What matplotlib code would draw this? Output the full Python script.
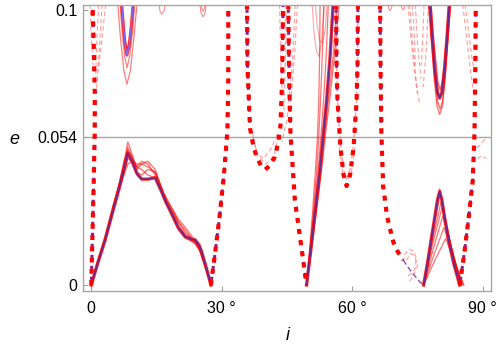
import matplotlib.pyplot as plt

plt.rcParams['font.family'] = ['Liberation Sans', 'DejaVu Sans']

RED = '#ff0000'
PURPLE = '#6a2890'
DPURPLE = '#8a1f86'
LIGHT = '#ff5a5a'

# ---- solid arch, 0 .. 27.5 deg
arch_i = [0, 1.5, 3.2, 5, 6.3, 7.5, 8.4, 9.5, 10.5, 11.6, 13, 14.7, 16, 17.2, 18.5, 20, 21.6, 23, 23.9, 24.8, 25.4, 26.5, 27.5]
arch_e = [0, .008, .0164, .027, .0345, .042, .048, .0445, .0405, .0385, .0385, .039, .0345, .030, .026, .021, .0176, .0167, .0164, .0145, .012, .006, 0]
arch_var = [
    [0, .008, .0165, .027, .035, .044, .052, .047, .042, .044, .045, .042, .036, .031, .026, .021, .018, .016, .015, .013, .011, .0055, 0],
    [0, .0085, .017, .028, .036, .043, .050, .046, .043, .045, .044, .040, .035, .030, .027, .023, .020, .017, .016, .014, .012, .006, 0],
    [0, .009, .018, .029, .036, .041, .046, .045, .044, .044, .043, .041, .036, .031, .028, .023, .019, .017, .015, .013, .010, .005, 0],
    [0, .0075, .016, .027, .034, .040, .044, .045, .043, .042, .040, .039, .035, .032, .028, .024, .021, .018, .016, .013, .011, .005, 0],
    [0, .008, .0170, .028, .036, .045, .049, .046, .041, .040, .042, .041, .036, .030, .025, .020, .017, .016, .0155, .014, .0115, .006, 0],
]

# ---- thick dashed branches
dash_a_i = [0, 0.3, 0.6, 0.8, 0.8, 0.6, 0.3]
dash_a_e = [0, .02, .04, .056, .07, .085, .102]
dash_b_i = [27.5, 28.5, 29.5, 30.5, 31.3, 31.5, 31.5]
dash_b_e = [0, .012, .025, .04, .056, .075, .102]
u1_i = [35.8, 35.9, 36.5, 37.2, 38, 39, 40, 41.1, 42.2, 43.0, 43.5, 43.9, 44.1]
u1_e = [.102, .08, .057, .051, .0466, .0435, .042, .0435, .0466, .052, .058, .075, .102]
vleft_i = [45.3, 45.5, 45.8, 46.8, 48.2, 49.5]
vleft_e = [.102, .075, .055, .031, .015, 0]
u2_i = [56.3, 56.4, 56.6, 57.3, 58, 58.7, 59.5, 60.3, 61, 61.2, 61.3]
u2_e = [.102, .08, .067, .05, .04, .036, .04, .05, .067, .08, .102]
u2_var_e = [.102, .08, .067, .051, .042, .039, .042, .051, .067, .08, .102]
drop_i = [66.4, 66.5, 66.7, 67.1, 68, 69.4, 70.5, 71.7]
drop_e = [.102, .08, .055, .036, .025, .0158, .012, .0091]
tail_i = [71.7, 73.5, 75.5, 76.4]
tail_e = [.0091, .005, .0012, 0]
dash_r_i = [84.7, 85.8, 86.8, 87.7, 88.1, 88.3, 88.4]
dash_r_e = [0, .012, .025, .038, .055, .08, .102]

# ---- solid V on the right of 49.5 deg, with its fan
vright_i = [49.5, 50.5, 51.5, 52.5, 53.3, 54.1, 54.9, 55.6]
vright_e = [0, .013, .027, .041, .054, .067, .083, .102]
fan_i = [
    [49.5, 50.3, 51.1, 51.8, 52.3, 52.7, 53.1, 53.5],
    [49.5, 50.4, 51.3, 52.1, 52.8, 53.4, 54.0, 54.5],
    [49.5, 50.6, 51.7, 52.8, 53.6, 54.5, 55.6, 56.5],
    [49.5, 50.6, 51.8, 52.9, 53.8, 54.8, 55.9, 57.0],
    [49.5, 50.2, 50.9, 51.5, 52.0, 52.3, 52.5, 52.6],
]
fan_loop_i = [[50.8, 51.2, 51.8, 52.4, 53.0, 53.5], [51.5, 51.9, 52.5, 53.2, 53.8, 54.2]]
fan_loop_e = [[.102, .092, .085, .083, .09, .102], [.102, .095, .089, .088, .093, .102]]

# ---- solid W between 76.4 and 85 deg
w_i = [76.4, 77.3, 78.2, 79.0, 79.6, 80.1, 80.6, 81.3, 82.2, 83.3, 84.7]
w_e = [0, .008, .017, .025, .031, .034, .031, .024, .016, .008, 0]
w_var_i = [
    [76.4, 78.2, 80.1, 82.3, 84.8],
    [76.4, 78.3, 80.2, 82.4, 84.9],
    [76.4, 78.4, 80.4, 82.6, 85.0],
    [76.4, 78.5, 80.6, 82.8, 85.1],
    [76.4, 78.6, 80.8, 83.0, 85.3],
    [76.4, 78.8, 81.1, 83.2, 85.5],
    [76.4, 79.0, 81.5, 83.5, 85.7],
]
w_var_e = [
    [0, .018, .035, .017, 0],
    [0, .017, .033, .016, 0],
    [0, .016, .030, .015, 0],
    [0, .015, .028, .014, 0],
    [0, .013, .025, .012, 0],
    [0, .011, .021, .010, 0],
    [0, .009, .017, .008, 0],
]

# ---- U shapes hanging from the top
u80_i = [77.9, 78.4, 79.0, 79.6, 80.1, 80.6, 81.2, 81.8, 82.3]
u80_e = [.102, .09, .078, .07, .068, .07, .078, .09, .102]
u80_var_i = [
    [77.5, 78.2, 78.9, 79.5, 80.1, 80.7, 81.3, 81.9, 82.6],
    [77.7, 78.3, 79.0, 79.6, 80.2, 80.8, 81.4, 82.0, 82.6],
    [78.1, 78.6, 79.2, 79.7, 80.2, 80.7, 81.2, 81.7, 82.2],
]
u80_var_e = [
    [.102, .088, .074, .065, .062, .065, .074, .088, .102],
    [.102, .089, .076, .067, .064, .067, .076, .089, .102],
    [.102, .092, .082, .074, .071, .074, .082, .092, .102],
]
u8_i = [7.0, 7.4, 7.8, 8.2, 8.7, 9.2, 9.6]
u8_e = [.102, .094, .087, .0836, .087, .094, .102]
u8_var_i = [
    [6.1, 6.7, 7.5, 8.2, 9.0, 9.8, 10.5],
    [6.6, 7.1, 7.7, 8.2, 8.8, 9.5, 10.0],
    [6.9, 7.3, 7.8, 8.3, 8.8, 9.3, 9.8],
]
u8_var_e = [
    [.102, .09, .078, .073, .078, .09, .102],
    [.102, .092, .083, .079, .083, .092, .102],
    [.102, .095, .089, .086, .089, .095, .102],
]
loops_i = [
    [15.6, 15.8, 16.2, 16.7, 17.0],
    [25.0, 25.2, 25.7, 26.2, 26.4],
    [25.3, 25.4, 25.7, 26.0, 26.1],
    [68.2, 68.4, 68.7, 69.0, 69.2],
    [71.2, 71.4, 71.7, 72.0, 72.2],
]
loops_e = [
    [.102, .0995, .0985, .0995, .102],
    [.102, .099, .0975, .099, .102],
    [.102, .1005, .0995, .1005, .102],
    [.102, .1005, .0998, .1005, .102],
    [.102, .1008, .1, .1008, .102],
]

# ---- thin dashed bundles
thin_i = [
    [2.5, 1.8, 1.2], [3.3, 2.5, 1.6], [-0.3, 0.0, 0.4], [1.7, 1.3, 1.0],
    [46.9, 46.2, 45.0, 43.8], [47.4, 46.8, 45.8], [44.8, 44.6, 44.2], [43.3, 43.5, 43.9],
    [37.0, 38.2, 40.2, 42.0, 43.2], [36.8, 38.0, 39.6, 41.5, 43.0],
    [73.2, 74.0, 75.0, 75.5], [74.5, 75.0, 75.8], [77.5, 77.0, 76.3],
    [76.5, 76.2, 75.9], [73.8, 74.3, 74.5], [72.8, 73.5, 74.3, 74.9],
    [85.4, 86.3, 87.2, 87.7, 88.3], [85.9, 86.7, 87.5, 88.0],
    [72.0, 73.0, 74.0, 74.7, 74.5, 73.5, 72.5],
    [72.5, 73.4, 74.4, 75.0, 74.0, 73.0],
    [57.0, 57.8, 58.8, 59.8, 60.6], [88.6, 89.5, 90.5], [88.8, 89.8, 90.8],
]
thin_e = [
    [.102, .085, .07], [.102, .09, .078], [.102, .09, .08], [.102, .09, .075],
    [.102, .08, .06, .052], [.102, .085, .065], [.102, .08, .06], [.102, .085, .07],
    [.056, .047, .044, .047, .055], [.057, .048, .046, .05, .056],
    [.102, .085, .07, .066], [.102, .088, .075], [.102, .085, .072],
    [.102, .09, .08], [.102, .09, .08], [.102, .09, .078, .07],
    [.102, .09, .078, .072, .068], [.102, .093, .083, .078],
    [.011, .013, .0125, .01, .006, .004, .003],
    [.009, .0115, .0105, .007, .003, .001],
    [.05, .041, .038, .041, .05], [.05, .051, .053], [.046, .047, .046],
]

yticks = [0, 0.054, 0.1]
ytick_labels = ['0', '0.054', '0.1']
xticks = [0, 30, 60, 90]
xtick_labels = ['0', '30 °', '60 °', '90 °']

fig = plt.figure(figsize=(5, 3.49), dpi=100)
ax = fig.add_axes([0.166, 0.166, 0.816, 0.8195])

thick = dict(lw=3.0, linestyle=(0, (1.2, 1.5)), dash_capstyle='butt')
thick_p = dict(lw=2.2, linestyle=(1.9, (1.0, 2.6)), dash_capstyle='butt')

# thin light dashed
for xs, ys in zip(thin_i, thin_e):
    ax.plot(xs, ys, color=LIGHT, lw=0.8, alpha=0.6, linestyle=(0, (4, 2.5)))
ax.plot(tail_i, tail_e, color=PURPLE, lw=1.0, alpha=0.8, linestyle=(0, (4, 2)))

# thin light solid
for xs in fan_i:
    ax.plot(xs, vright_e, color=RED, lw=0.9, alpha=0.55)
for xs, ys in zip(fan_loop_i, fan_loop_e):
    ax.plot(xs, ys, color=RED, lw=0.8, alpha=0.35)
for xs, ys in zip(loops_i, loops_e):
    ax.plot(xs, ys, color=RED, lw=0.8, alpha=0.45)
for xs, ys in zip(u8_var_i, u8_var_e):
    ax.plot(xs, ys, color=RED, lw=0.9, alpha=0.5)
for xs, ys in zip(u80_var_i, u80_var_e):
    ax.plot(xs, ys, color=RED, lw=0.9, alpha=0.6)
for xs, ys in zip(w_var_i, w_var_e):
    ax.plot(xs, ys, color=RED, lw=0.9, alpha=0.55)
for ys in arch_var:
    ax.plot(arch_i, ys, color=RED, lw=1.0, alpha=0.55)
ax.plot(u2_i, u2_var_e, color=LIGHT, lw=1.0, alpha=0.6, linestyle=(0, (3, 2)))

# main solid curves
for xs, ys in [(arch_i, arch_e), (vright_i, vright_e), (w_i, w_e), (u80_i, u80_e)]:
    ax.plot(xs, ys, color=RED, lw=2.4, alpha=0.8)
    ax.plot(xs, ys, color=PURPLE, lw=1.2)
ax.plot(u8_i, u8_e, color=RED, lw=2.2, alpha=0.8)
ax.plot(u8_i, u8_e, color='#7a6cff', lw=1.0)

# thick dashed branches
for xs, ys in [(dash_a_i, dash_a_e), (dash_b_i, dash_b_e), (u1_i, u1_e), (vleft_i, vleft_e),
               (u2_i, u2_e), (drop_i, drop_e), (dash_r_i, dash_r_e)]:
    ax.plot(xs, ys, color=DPURPLE, **thick_p)
    ax.plot(xs, ys, color=RED, **thick)

ax.axhline(0.054, color='#a8a8a8', lw=1.0, zorder=0)

ax.set_xlim(-1.9, 91.9)
ax.set_ylim(-0.0022, 0.1018)
ax.set_xticks(xticks)
ax.set_xticklabels(xtick_labels)
ax.set_yticks(yticks)
ax.set_yticklabels(ytick_labels)
ax.tick_params(direction='in', length=3.5, width=0.8, color='#a0a0a0', labelsize=11.5)
ax.tick_params(axis='x', pad=7)
ax.tick_params(axis='y', pad=4)
for s in ax.spines.values():
    s.set_color('#a6a6a6')
    s.set_linewidth(1.0)

ax.set_ylabel('e', rotation=0, fontsize=13, style='italic')
ax.yaxis.set_label_coords(-0.167, 0.5)
ax.set_xlabel('i', fontsize=13, style='italic')
ax.xaxis.set_label_coords(0.502, -0.125)

fig.savefig('out.png', dpi=100)
